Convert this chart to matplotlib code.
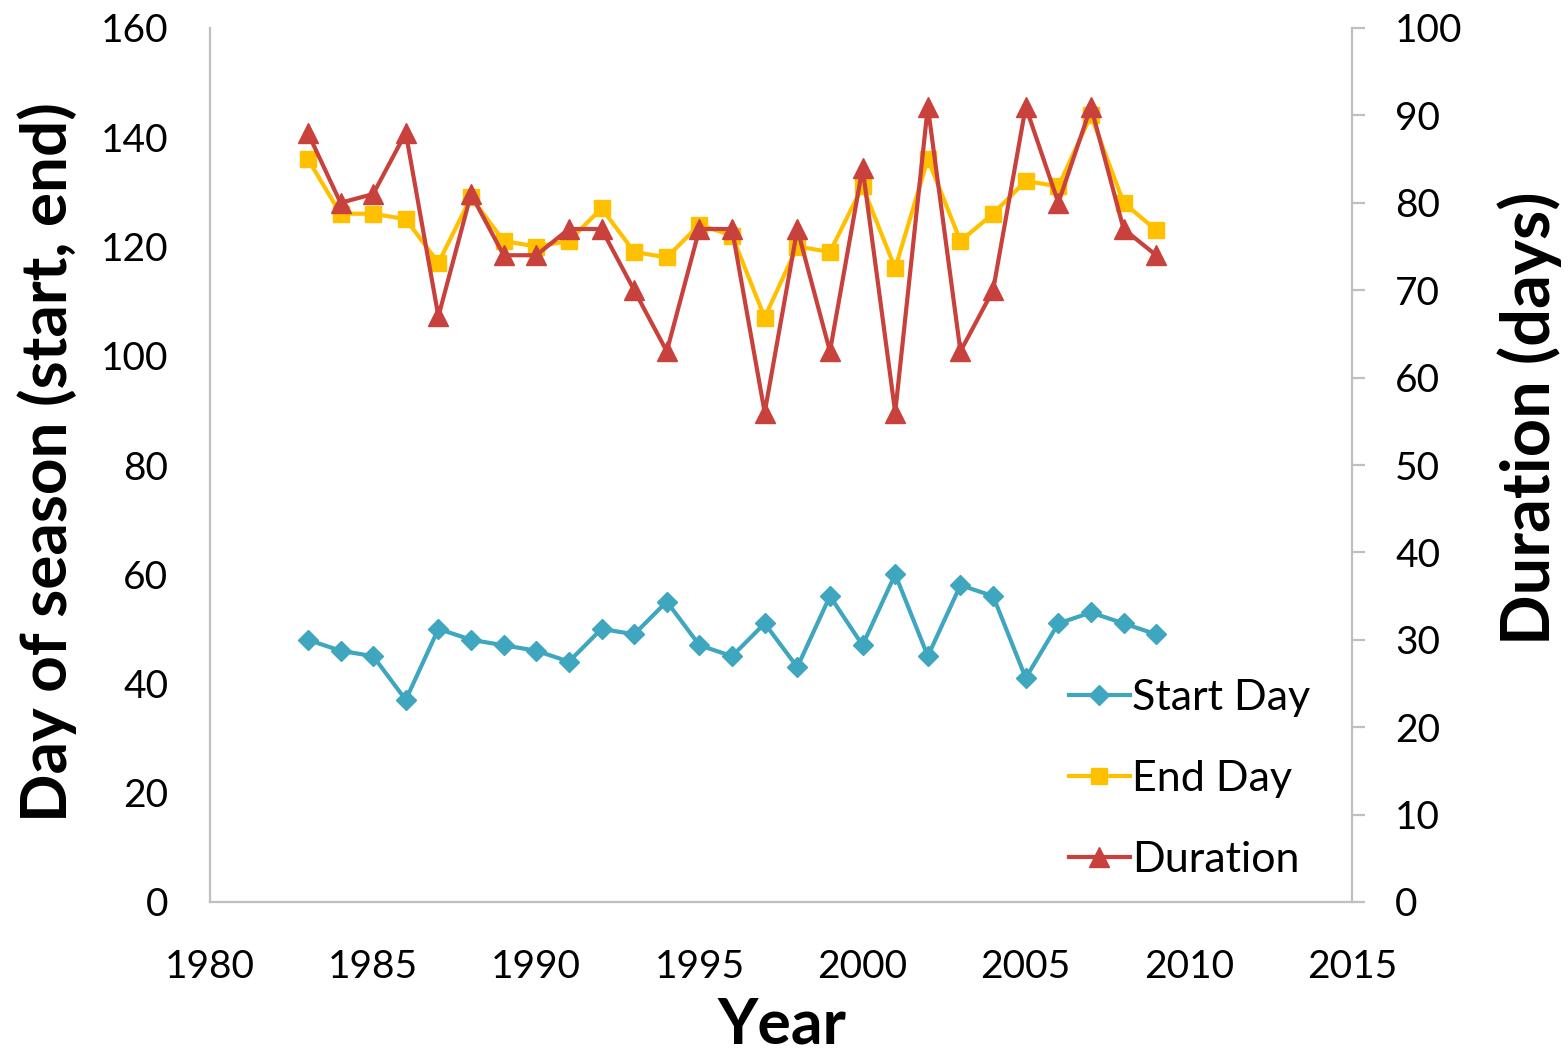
import numpy as np
import matplotlib
matplotlib.use("Agg")
from matplotlib import pyplot as plt

plt.rcParams['font.family'] = ['Lato', 'DejaVu Sans']

years = list(range(1983, 2010))
start_day = [48, 46, 45, 37, 50, 48, 47, 46, 44, 50, 49, 55, 47, 45, 51,
             43, 56, 47, 60, 45, 58, 56, 41, 51, 53, 51, 49]
end_day = [136, 126, 126, 125, 117, 129, 121, 120, 121, 127, 119, 118, 124, 122, 107,
           120, 119, 131, 116, 136, 121, 126, 132, 131, 144, 128, 123]
duration = [88, 80, 81, 88, 67, 81, 74, 74, 77, 77, 70, 63, 77, 77, 56,
            77, 63, 84, 56, 91, 63, 70, 91, 80, 91, 77, 74]

c_start = '#3FA6BF'
c_end = '#FFC000'
c_dur = '#C8413C'
grey = '#BFBFBF'

fig = plt.figure(figsize=(15.68, 10.55), dpi=100)
ax = fig.add_axes([210/1568, 1 - 902/1055, (1352-210)/1568, (902-28)/1055])
ax2 = ax.twinx()

l1, = ax.plot(years, start_day, color=c_start, lw=3, marker='D', ms=10, label='Start Day')
l2, = ax.plot(years, end_day, color=c_end, lw=3, marker='s', ms=12, label='End Day')
l3, = ax2.plot(years, duration, color=c_dur, lw=3, marker='^', ms=14, label='Duration')

ax.set_xlim(1980, 2015)
ax.set_ylim(0, 160)
ax2.set_ylim(0, 100)
ax.set_xticks(range(1980, 2016, 5))
ax.set_yticks(range(0, 161, 20))
ax2.set_yticks(range(0, 101, 10))

for a in (ax, ax2):
    for s in a.spines.values():
        s.set_color(grey)
        s.set_linewidth(1.6)
    a.spines['top'].set_visible(False)
ax2.spines['left'].set_visible(False)
ax2.spines['bottom'].set_visible(False)
ax.spines['right'].set_visible(False)

ax.tick_params(axis='y', length=0, pad=30, labelsize=28)
ax.tick_params(axis='x', length=0, pad=34, labelsize=28)
ax2.tick_params(axis='y', length=9, width=1.6, color=grey, pad=22, labelsize=28)

fig.text(47/1568, 1 - 462/1055, 'Day of season (start, end)', rotation=90,
         ha='center', va='center', fontsize=46, fontweight='bold')
fig.text(1530/1568, 1 - 418/1055, 'Duration (days)', rotation=90,
         ha='center', va='center', fontsize=48, fontweight='bold')
fig.text(782/1568, 1 - 1025/1055, 'Year', ha='center', va='center',
         fontsize=45, fontweight='bold')

ax2.legend(handles=[l1, l2, l3], loc='lower right', bbox_to_anchor=(0.997, -0.018),
           frameon=False, fontsize=31, handlelength=1.4, handletextpad=0.05,
           labelspacing=1.0)

fig.savefig('out.png', dpi=100)
